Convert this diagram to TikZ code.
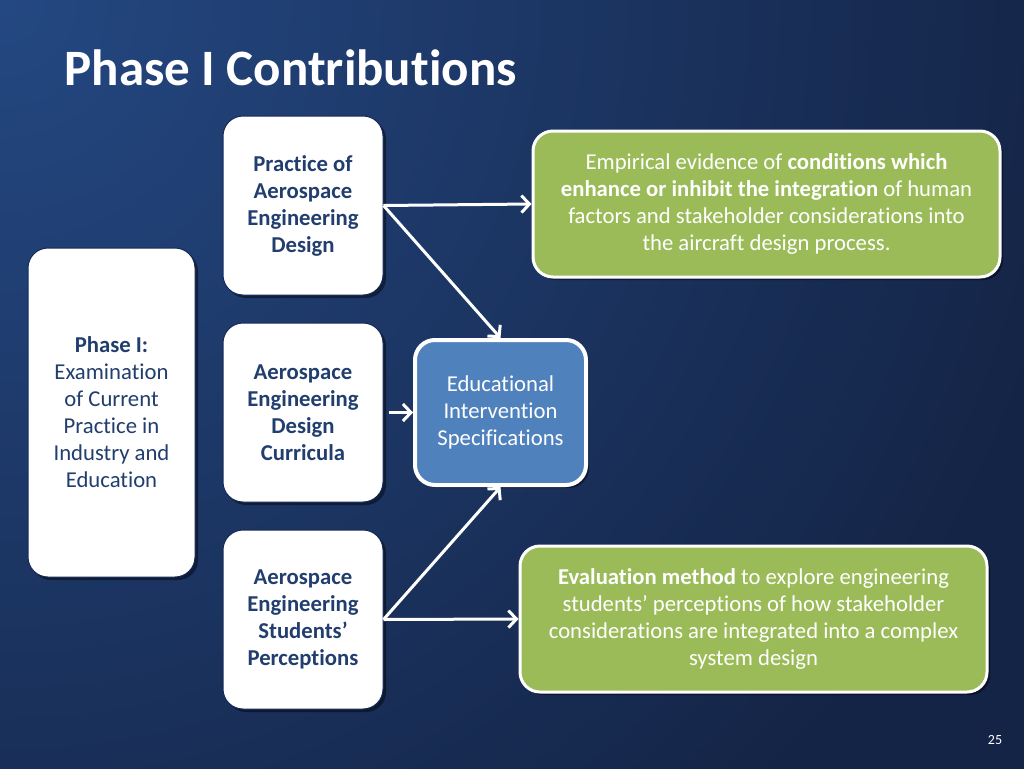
\documentclass[tikz,border=0pt]{standalone}
\usepackage{fontspec}
\setmainfont{Carlito}[Ligatures={NoCommon}]
\usetikzlibrary{arrows.meta,shadows}
\definecolor{bglight}{RGB}{36,72,130}
\definecolor{bgdark}{RGB}{20,36,70}
\definecolor{navytext}{RGB}{33,62,110}
\definecolor{boxgreen}{RGB}{155,187,89}
\definecolor{boxblue}{RGB}{79,129,189}
\definecolor{boxedge}{RGB}{20,40,90}
\tikzset{
  base/.style={rounded corners=20pt, align=center, inner sep=0pt,
    drop shadow={opacity=0.45, shadow xshift=3pt, shadow yshift=-3pt, fill=black}},
  bodyfont/.style={font=\fontsize{22.7}{27}\selectfont},
  boldfont/.style={font=\fontsize{22.7}{27}\selectfont\bfseries},
  whitebox/.style={base, fill=white, draw=boxedge, line width=1pt, text=navytext, bodyfont},
  greenbox/.style={base, fill=boxgreen, draw=white, line width=3pt, text=white, bodyfont},
  bluebox/.style={base, fill=boxblue, draw=white, line width=4pt, text=white, bodyfont},
  conn/.style={draw=white, line width=3pt, -{Straight Barb[length=8pt,width=17pt]}}
}
\begin{document}
\begin{tikzpicture}[x=1pt,y=-1pt]
\useasboundingbox (0,0) rectangle (1024,768);
\begin{scope}
\clip (-2,-2) rectangle (1026,770);
\fill[bgdark] (-2,-2) rectangle (1026,770);
\shade[inner color=bglight, outer color=bgdark] (0,0) circle (1100);
\end{scope}
\node[anchor=base west, text=white, font=\fontsize{51}{60}\selectfont\bfseries] (title) at (61,85) {Phase I Contributions};
\node[whitebox, minimum width=167pt, minimum height=329pt] (phase) at (111.5,412.5)
  {\textbf{Phase I:}\\Examination\\of Current\\Practice in\\Industry and\\Education};
\node[whitebox, boldfont, minimum width=160pt, minimum height=179pt] (prac) at (303,205.5)
  {Practice of\\Aerospace\\Engineering\\Design};
\node[whitebox, boldfont, minimum width=160pt, minimum height=179pt] (curr) at (303,412.5)
  {Aerospace\\Engineering\\Design\\Curricula};
\node[whitebox, boldfont, minimum width=160pt, minimum height=179pt] (perc) at (303,619.5)
  {Aerospace\\Engineering\\Students'\\Perceptions};
\node[bluebox, minimum width=171pt, minimum height=145pt] (edu) at (500.5,412.5)
  {Educational\\Intervention\\Specifications};
\node[greenbox, minimum width=467pt, minimum height=146pt] (gtop) at (766.5,204)
  {Empirical evidence of \textbf{conditions which}\\\textbf{enhance or inhibit the integration} of human\\factors and stakeholder considerations into\\the aircraft design process.};
\node[greenbox, minimum width=467pt, minimum height=146pt] (gbot) at (753.5,619)
  {\textbf{Evaluation method} to explore engineering\\students' perceptions of how stakeholder\\considerations are integrated into a complex\\system design};
\draw[conn] (prac.east) -- (gtop.west);
\draw[conn] (prac.east) -- (edu.north);
\draw[conn, shorten <=5pt] (curr.east) -- (edu.west);
\draw[conn] (perc.east) -- (edu.south);
\draw[conn] (perc.east) -- (gbot.west);
\node[text=white, font=\fontsize{14}{16}\selectfont] (pnum) at (995,740) {25};
\end{tikzpicture}
\end{document}
